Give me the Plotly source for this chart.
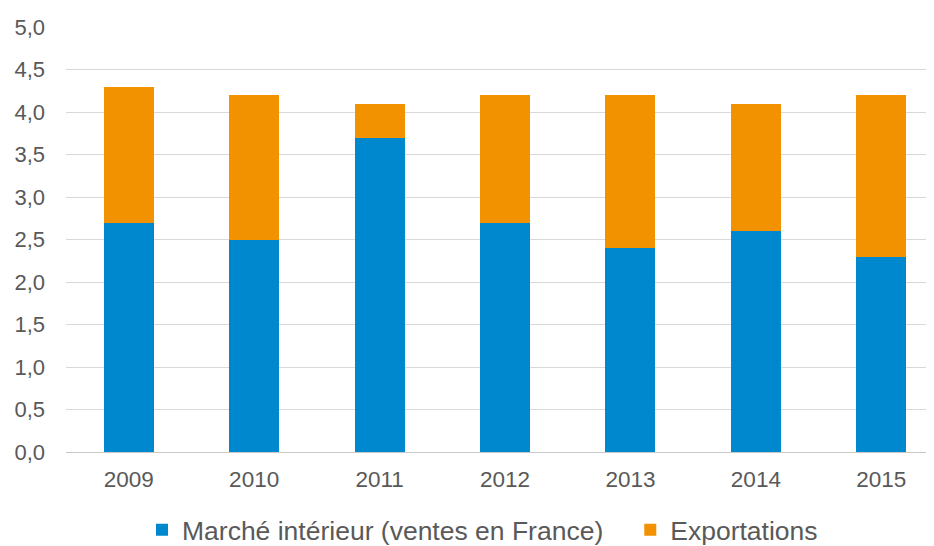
import plotly.graph_objects as go

years = ["2009", "2010", "2011", "2012", "2013", "2014", "2015"]
marche_interieur = [2.7, 2.5, 3.7, 2.7, 2.4, 2.6, 2.3]
exportations = [1.6, 1.7, 0.4, 1.5, 1.8, 1.5, 1.9]
y_ticks = [0, 0.5, 1, 1.5, 2, 2.5, 3, 3.5, 4, 4.5, 5]

font_family = "Liberation Sans, Arial, sans-serif"
grey = "#595959"

fig = go.Figure()
fig.add_trace(go.Bar(x=years, y=marche_interieur, name="Marché intérieur (ventes en France)",
                     marker=dict(color="#0088CE", line=dict(width=0)), legend="legend"))
fig.add_trace(go.Bar(x=years, y=exportations, name="Exportations",
                     marker=dict(color="#F39200", line=dict(width=0)), legend="legend2"))

leg_common = dict(orientation="h", xref="container", yref="container", xanchor="left",
                  y=0.0297, yanchor="middle", font=dict(size=26.5, color=grey),
                  bgcolor="rgba(0,0,0,0)", itemwidth=30)

fig.update_layout(
    barmode="stack",
    bargap=0.601,
    width=926, height=538,
    margin=dict(l=58, r=0, t=19, b=94, autoexpand=False),
    paper_bgcolor="white", plot_bgcolor="white",
    separators=", ",
    font=dict(family=font_family, color=grey, size=22),
    showlegend=True,
    legend=dict(x=0.1447, **leg_common),
    legend2=dict(x=0.672, **leg_common),
    xaxis=dict(showgrid=False, showline=True, linecolor="#c8c8c8", linewidth=1,
               range=[-0.5, 6.42],
               ticks="", ticklabelstandoff=7, tickfont=dict(size=22.5, color=grey)),
    yaxis=dict(range=[0, 5], tickvals=y_ticks, tickformat=".1f", showgrid=True,
               gridcolor="#d9d9d9", gridwidth=1, zeroline=False, showline=False,
               ticks="", ticklabelstandoff=20, tickfont=dict(size=22, color=grey)),
)

fig.write_html("out.html")
